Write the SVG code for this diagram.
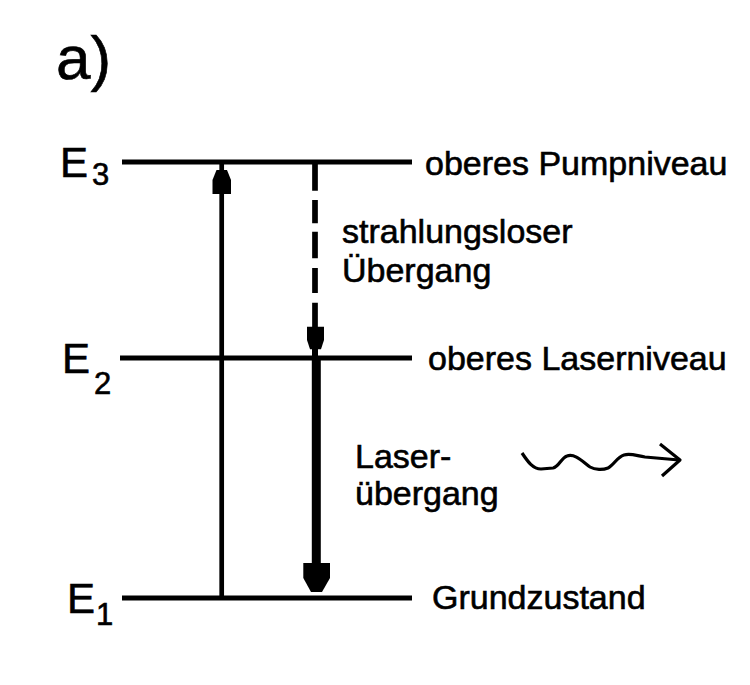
<svg xmlns="http://www.w3.org/2000/svg" width="750" height="685" viewBox="0 0 750 685">
  <style>
    text { font-family: "Liberation Sans", Arial, sans-serif; fill: #000; stroke: #000; stroke-width: 0.6; }
    .lbl { font-size: 34px; }
    .E { font-size: 42px; }
    .sub { font-size: 31px; }
    .level { stroke: #000; stroke-width: 5; fill: none; }
    .thin { stroke: #000; stroke-width: 4.7; fill: none; }
    .dash { stroke: #000; stroke-width: 5.7; fill: none; }
    .thick { stroke: #000; stroke-width: 9; fill: none; }
    .wave { stroke: #000; stroke-width: 3.2; fill: none; stroke-linejoin: round; }
    .head { fill: #000; stroke: none; }
  </style>
  <rect width="750" height="685" fill="#fff"/>
  <text x="56" y="79" style="font-size:62px">a)</text>

  <g id="E3">
    <line class="level" x1="122" y1="162" x2="412" y2="162"/>
    <text class="E" x="60" y="177">E</text>
    <text class="sub" x="92" y="185">3</text>
    <text class="lbl" x="425" y="175">oberes Pumpniveau</text>
  </g>
  <g id="E2">
    <line class="level" x1="120" y1="358" x2="412" y2="358"/>
    <text class="E" x="62" y="373">E</text>
    <text class="sub" x="94" y="394">2</text>
    <text class="lbl" x="428" y="370">oberes Laserniveau</text>
  </g>
  <g id="E1">
    <line class="level" x1="122" y1="598" x2="412" y2="598"/>
    <text class="E" x="67" y="613">E</text>
    <text class="sub" x="96" y="625">1</text>
    <text class="lbl" x="432" y="609">Grundzustand</text>
  </g>

  <g id="connectors">
    <line class="thin" x1="221.7" y1="598" x2="221.7" y2="162"/>
    <polygon class="head" points="216.5,170 227,170 231,180 231,194 212.5,194 212.5,180"/>

    <path class="dash" d="M315 162 V190.7 M315 200 V223.3 M315 231.7 V258.3 M315 268 V293 M315 302.7 V327"/>
    <polygon class="head" points="307,326.7 324,326.7 324,340 321,349.3 310,349.3 307,340"/>
    <line x1="315" y1="349" x2="315" y2="358" stroke="#000" stroke-width="6"/>

    <line class="thick" x1="316.3" y1="358" x2="316.3" y2="566"/>
    <polygon class="head" points="303.3,563 330,563 330,578 322,592 311,592 303.3,578"/>

    <path class="wave" d="M522,453 C528,462 533,469 541,469 L553,468 C559,467 561,458 567,456 C575,453 583,462 590,467 C595,470 603,470 608,468 C614,465 617,457 624,455 C631,453 637,456 645,457 L679,460"/>
    <path class="wave" d="M660,444 L680,460 L662,476"/>
  </g>

  <g id="labels">
    <text class="lbl" x="342" y="243">strahlungsloser</text>
    <text class="lbl" x="342" y="282">Übergang</text>
    <text class="lbl" x="355" y="468">Laser-</text>
    <text class="lbl" x="355" y="505">übergang</text>
  </g>
</svg>
